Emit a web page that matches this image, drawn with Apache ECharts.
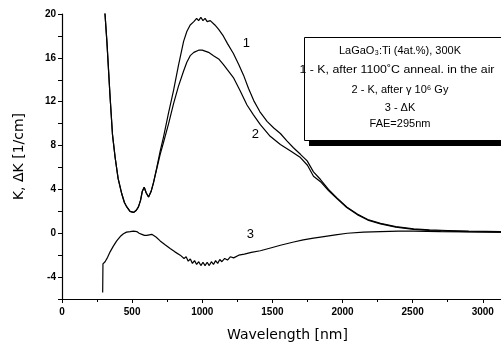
<!DOCTYPE html>
<html><head><meta charset="utf-8">
<script src="https://cdn.jsdelivr.net/npm/echarts@6/dist/echarts.min.js"></script>
<style>html,body{margin:0;padding:0;background:#fff}#c{width:501px;height:347px}</style>
</head><body><div id="c"></div>
<script>
// Wavelength [nm], K [1/cm]
const curve1 = [[305,20.3],[320,17.5],[343,12.4],[360,9.0],[379,6.9],[400,5.0],[426,3.6],[445,2.8],[462,2.4],[485,2.0],[510,1.9],[530,2.1],[545,2.4],[560,3.0],[572,3.8],[586,4.2],[600,3.7],[617,3.3],[635,3.8],[652,4.6],[676,6.0],[700,7.5],[724,8.8],[760,11.0],[795,13.0],[830,15.3],[867,17.5],[890,18.4],[914,19.0],[940,19.3],[960,19.6],[974,19.4],[990,19.7],[1005,19.4],[1020,19.6],[1035,19.3],[1057,19.4],[1090,19.0],[1117,18.6],[1150,18.0],[1180,17.3],[1222,16.4],[1260,15.4],[1295,14.4],[1330,13.2],[1367,12.1],[1410,11.1],[1462,10.2],[1510,9.6],[1557,9.1],[1605,8.4],[1650,7.8],[1700,7.2],[1748,6.6],[1793,5.6],[1843,4.9],[1900,4.0],[1962,3.2],[2030,2.4],[2105,1.75],[2180,1.25],[2271,0.9],[2380,0.6],[2507,0.4],[2620,0.3],[2748,0.25],[2900,0.2],[3130,0.15]];
const curve2 = [[305,20.3],[320,17.5],[343,12.4],[360,9.0],[379,6.9],[400,5.0],[426,3.6],[445,2.8],[462,2.4],[485,2.0],[510,1.9],[530,2.1],[545,2.4],[560,3.0],[572,3.8],[586,4.2],[600,3.7],[617,3.3],[635,3.8],[652,4.6],[676,5.9],[700,7.2],[724,8.3],[760,10.0],[795,11.8],[830,13.4],[867,14.8],[890,15.6],[914,16.2],[940,16.5],[974,16.7],[1000,16.7],[1045,16.5],[1080,16.2],[1117,15.9],[1150,15.4],[1180,14.9],[1222,14.2],[1270,13.0],[1319,11.7],[1365,10.8],[1414,9.9],[1480,8.9],[1557,8.1],[1630,7.5],[1700,6.9],[1750,6.2],[1793,5.2],[1843,4.7],[1900,3.9],[1962,3.15],[2030,2.35],[2105,1.7],[2180,1.2],[2271,0.85],[2380,0.55],[2507,0.35],[2620,0.25],[2748,0.2],[2900,0.15],[3130,0.1]];
const curve3 = [[290,-5.4],[292,-2.8],[307,-2.6],[325,-2.2],[343,-1.7],[365,-1.2],[390,-0.7],[415,-0.3],[438,-0.05],[460,0.1],[486,0.15],[510,0.2],[533,0.15],[550,0.0],[569,-0.1],[588,-0.2],[605,-0.2],[622,-0.15],[640,-0.1],[670,-0.35],[700,-0.7],[735,-1.05],[771,-1.4],[805,-1.7],[843,-2.0],[870,-2.3],[885,-2.15],[900,-2.55],[915,-2.35],[930,-2.75],[945,-2.5],[960,-2.85],[975,-2.6],[990,-2.95],[1005,-2.65],[1020,-2.95],[1035,-2.65],[1050,-2.95],[1065,-2.6],[1080,-2.85],[1095,-2.5],[1110,-2.75],[1125,-2.4],[1140,-2.6],[1160,-2.3],[1180,-2.45],[1200,-2.15],[1224,-2.25],[1260,-2.0],[1300,-1.9],[1350,-1.75],[1414,-1.6],[1500,-1.3],[1557,-1.1],[1652,-0.8],[1720,-0.6],[1793,-0.45],[1843,-0.35],[1950,-0.15],[2034,0.0],[2150,0.1],[2271,0.15],[2400,0.2],[2507,0.2],[2700,0.15],[2900,0.12],[3130,0.1]];
const xTicks = [0,500,1000,1500,2000,2500,3000];
const yTicks = [-4,0,4,8,12,16,20];
const curveLabels = [{name:'1',coord:[1314,17.3]},{name:'2',coord:[1379,9.0]},{name:'3',coord:[1343,-0.1]}];
const legendLines = ['LaGaO₃:Ti (4at.%), 300K','1 - K, after 1100˚C anneal. in the air','2 - K, after γ 10⁶ Gy','3 - ΔK','FAE=295nm'];

const FONT = 'Liberation Sans, Arial, sans-serif';
const chart = echarts.init(document.getElementById('c'));
function lbl(i){
  const c = curveLabels[i];
  return {symbol:'circle',symbolSize:0,silent:true,data:[{coord:c.coord,value:c.name}],
    label:{show:true,position:'inside',formatter:c.name,color:'#000',fontSize:13,fontFamily:FONT}};
}
const lineStyle = {color:'#000',width:1.2};
const lineY = [51,70,90,108,124];
chart.setOption({
  animation:false,
  backgroundColor:'#fff',
  grid:{left:62,right:0,top:14,bottom:45,containLabel:false},
  xAxis:{type:'value',min:0,max:3130,interval:500,
    name:'Wavelength [nm]',nameLocation:'middle',nameGap:29,
    nameTextStyle:{fontSize:14,fontFamily:'DejaVu Sans',color:'#000',padding:[0,0,0,12]},
    axisLine:{onZero:false,lineStyle:{color:'#000',width:1.2}},
    axisTick:{show:true,length:4,inside:false,lineStyle:{color:'#000'}},
    minorTick:{show:true,splitNumber:2,length:3,lineStyle:{color:'#000'}},
    axisLabel:{fontSize:10,fontWeight:'bold',fontFamily:FONT,color:'#000',margin:8,showMaxLabel:false,
      formatter:v=>xTicks.includes(v)?String(v):''},
    splitLine:{show:false}},
  yAxis:{type:'value',min:-6,max:20,interval:2,
    name:'K, ΔK [1/cm]',nameLocation:'middle',nameGap:36,nameRotate:90,
    nameTextStyle:{fontSize:14,fontFamily:'DejaVu Sans',color:'#000'},
    axisLine:{show:true,onZero:false,lineStyle:{color:'#000',width:1.2}},
    axisTick:{show:true,length:4,lineStyle:{color:'#000'}},
    axisLabel:{fontSize:10,fontWeight:'bold',fontFamily:FONT,color:'#000',margin:6,
      formatter:v=>yTicks.includes(v)?String(v):''},
    splitLine:{show:false}},
  series:[
    {type:'line',data:curve1,showSymbol:false,lineStyle,clip:true,markPoint:lbl(0)},
    {type:'line',data:curve2,showSymbol:false,lineStyle,clip:true,markPoint:lbl(1)},
    {type:'line',data:curve3,showSymbol:false,lineStyle,clip:true,markPoint:lbl(2)}
  ],
  graphic:[
    {type:'rect',shape:{x:309,y:141,width:200,height:5},style:{fill:'#000'},z:100},
    {type:'rect',shape:{x:304.5,y:37.5,width:210,height:103},style:{fill:'#fff',stroke:'#000',lineWidth:1},z:101},
    ...legendLines.map((t,i)=>({type:'text',z:102,x:i===1?397:400,y:lineY[i],scaleX:i===1?1.12:1,
      style:{text:t,fontSize:11,fontFamily:FONT,fill:'#000',align:'center',verticalAlign:'middle'}}))
  ]
});
</script></body></html>
